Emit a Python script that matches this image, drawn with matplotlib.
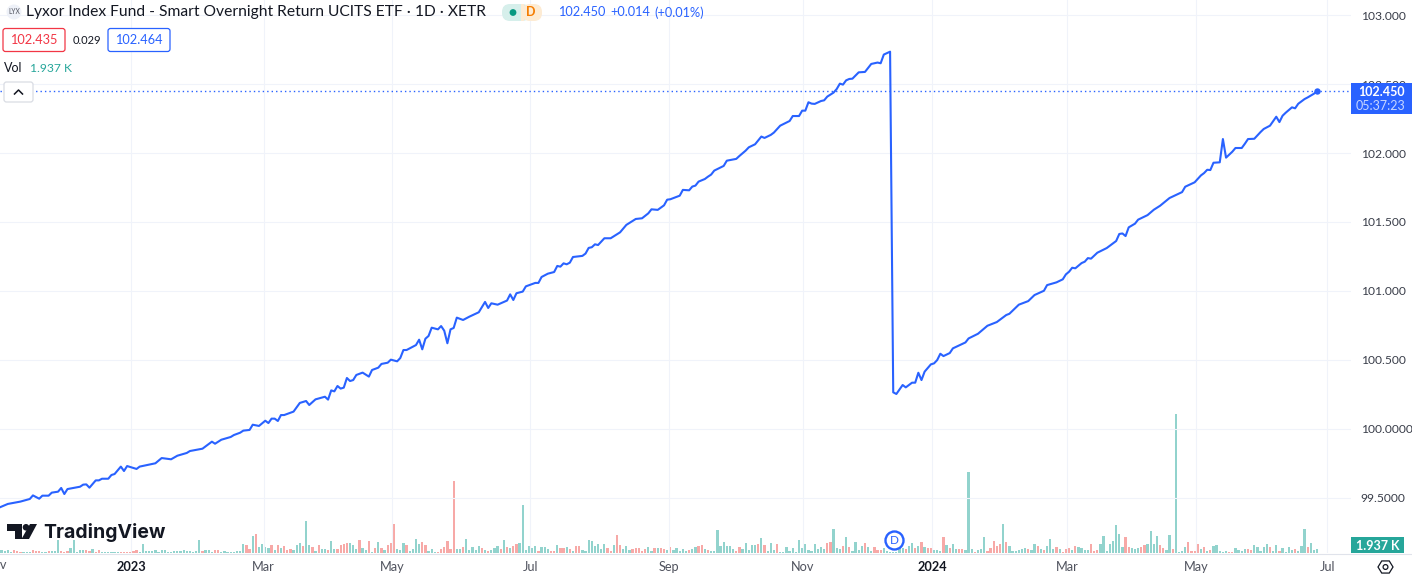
#coding:utf-8
import numpy as np
import matplotlib
matplotlib.use('Agg')
import matplotlib.pyplot as plt
from matplotlib.patches import Rectangle, FancyBboxPatch, Circle, Polygon

# daily closes (bar number, price)
close_idx = [0, 3, 7, 10, 11, 13, 14, 16, 17, 19, 20, 21, 22, 26, 27, 28, 29, 31, 32, 33, 35, 36, 37, 39, 40, 41,
             44, 45, 50, 52, 55, 57, 60, 61, 65, 68, 69, 71, 74, 75, 77, 78, 80, 81, 83, 85, 86, 87, 88, 89, 90, 91,
             94, 96, 98, 99, 101, 104, 105, 106, 107, 108, 109, 110, 111, 112, 113, 114, 116, 118, 119, 121, 122,
             124, 125, 127, 128, 129, 130, 133, 134, 135, 136, 137, 138, 140, 141, 142, 143, 144, 145, 146, 148,
             149, 150, 153, 155, 156, 157, 159, 162, 163, 164, 165, 167, 168, 171, 172, 173, 175, 177, 178, 179,
             180, 181, 182, 183, 186, 187, 188, 189, 190, 191, 193, 195, 198, 200, 203, 205, 207, 208, 210, 212,
             213, 214, 217, 218, 220, 221, 222, 223, 225, 226, 227, 228, 231, 232, 235, 236, 238, 239, 241, 243,
             244, 246, 247, 249, 252, 253, 255, 256, 257, 258, 259, 260, 262, 263, 264, 266, 267, 268, 269, 270,
             271, 272, 274, 276, 278, 280, 281, 282, 284, 285, 286, 288, 289, 291, 292, 293, 294, 295, 297, 298,
             299, 300, 301, 303, 304, 308, 309, 312, 315, 318, 321, 322, 325, 328, 330, 333, 334, 336, 337, 339,
             340, 341, 342, 343, 345, 346, 347, 348, 350, 353, 355, 356, 357, 358, 359, 360, 362, 363, 366, 368,
             370, 373, 377, 378, 381, 383, 384, 385, 386, 387, 389, 390, 391, 393, 394, 396, 397, 398, 400, 402,
             403, 405, 407, 408, 409, 410, 412, 413, 414, 416, 417, 419, 420]
close_val = [99.425, 99.454, 99.471, 99.490, 99.516, 99.492, 99.514, 99.514, 99.536, 99.543, 99.570, 99.526, 99.562,
             99.579, 99.594, 99.596, 99.572, 99.625, 99.625, 99.637, 99.637, 99.664, 99.671, 99.725, 99.693, 99.729,
             99.708, 99.725, 99.749, 99.787, 99.778, 99.804, 99.824, 99.838, 99.855, 99.906, 99.891, 99.920, 99.940,
             99.954, 99.971, 99.986, 99.991, 100.029, 100.020, 100.058, 100.041, 100.073, 100.073, 100.056, 100.099,
             100.099, 100.124, 100.187, 100.201, 100.172, 100.213, 100.232, 100.211, 100.278, 100.271, 100.310,
             100.291, 100.298, 100.368, 100.346, 100.353, 100.390, 100.407, 100.378, 100.426, 100.443, 100.470,
             100.479, 100.501, 100.489, 100.513, 100.571, 100.571, 100.607, 100.646, 100.576, 100.653, 100.673,
             100.733, 100.721, 100.745, 100.711, 100.620, 100.721, 100.731, 100.806, 100.789, 100.801, 100.813,
             100.845, 100.920, 100.876, 100.910, 100.900, 100.930, 100.975, 100.934, 100.983, 100.995, 101.033,
             101.058, 101.058, 101.101, 101.125, 101.137, 101.181, 101.176, 101.200, 101.193, 101.205, 101.246,
             101.254, 101.271, 101.312, 101.317, 101.338, 101.333, 101.382, 101.382, 101.425, 101.479, 101.522,
             101.527, 101.563, 101.592, 101.588, 101.621, 101.662, 101.665, 101.691, 101.733, 101.730, 101.757,
             101.764, 101.793, 101.812, 101.829, 101.844, 101.873, 101.907, 101.945, 101.958, 101.979, 102.018,
             102.042, 102.064, 102.120, 102.110, 102.132, 102.149, 102.199, 102.233, 102.269, 102.269, 102.308,
             102.308, 102.369, 102.359, 102.357, 102.378, 102.383, 102.410, 102.439, 102.465, 102.504, 102.497,
             102.528, 102.538, 102.540, 102.586, 102.589, 102.647, 102.657, 102.652, 102.715, 102.736, 100.264,
             100.252, 100.317, 100.300, 100.334, 100.334, 100.406, 100.353, 100.414, 100.467, 100.474, 100.498,
             100.544, 100.527, 100.549, 100.583, 100.626, 100.655, 100.689, 100.747, 100.774, 100.825, 100.834,
             100.900, 100.926, 100.970, 101.001, 101.042, 101.055, 101.062, 101.084, 101.120, 101.139, 101.168,
             101.164, 101.202, 101.212, 101.238, 101.234, 101.277, 101.311, 101.345, 101.362, 101.413, 101.417,
             101.398, 101.461, 101.488, 101.517, 101.550, 101.589, 101.618, 101.674, 101.717, 101.756, 101.788,
             101.838, 101.855, 101.879, 101.877, 101.930, 101.933, 102.102, 101.967, 102.010, 102.037, 102.037,
             102.068, 102.102, 102.104, 102.153, 102.175, 102.199, 102.264, 102.225, 102.271, 102.293, 102.332,
             102.325, 102.358, 102.392, 102.404, 102.431, 102.450]

# volume in K, one value per bar, negative = down day
vol_2022_23 = [0.7, 1.3, 1, 1.3, 0.5, -1.3, -0.8, -0.5, 0.7, 0.7,
               0.5, -1.3, -1, -0.8, 0.7, 0.5, -1, 0.8, 1, 6.7,
               -1, -0.7, -1, 2.3, 6.3, 0.7, 1.7, 1.5, -1.3, -1,
               1.8, -0.7, -1.3, 0.5, 0.7, 0.5, 0.5, 0.5, 0.4, -0.4,
               -0.4, -0.5, -0.5, -1, -1.7, 0.7, 4.5, 1, 1, 1,
               1.3, 0.5, 1.3, 1.3, 0.5, 0.7, 1, 1, 1, 1.3,
               1, 1, 0.7, 1, 6.3, -1, 1.3, 1.3, 0.5, -1.3,
               -1.3, 0.5, 0.8, 0.5, 0.7, 0.3, 1, 1, 4.3, -3.8,
               -2, 8.3, -9.5, 2.8, 4.3, 2.8, 2.3, -3.8, 1.5, -3.8,
               2.3, -3.3, -1.3, -2.2, 1.3, 3.8, 4.8, -3.3, 15.8, 3.8,
               -2.8, 0.8, -3.8, 1.8, 1.8, -1.3, 5.8, 1.8, -1.8, -3.8,
               -4.3, -4.8, 4.8, 3.8, 1.8, -6.7, 2.3, 1.3, -5.8, 0.5,
               -2.3, 5.3, -2.3, 1.3, -3.8, -4.8, -14.5, 1.8, 1.3, 4.8,
               -3.8, 0.8, 1.8, 6.8, 4.3, -5.3, -3.8, 0.8, 1.8, 0.7,
               -0.5, -1.8, -2.8, -5.8, -1.8, -35.8, 1.8, 1.8, -2.8, 6.8,
               1.3]
vol_2023 = [2.8, 1.5, 3.3, -2.3, 1.3, -0.8, 1.3, 2.3, 3.3, -1.8,
            6.3, -2.8, 2.3, -3.3, -4.3, 4.8, 23.8, 1.3, 3.3, 2.3,
            3.3, -0.8, 2.8, 2.8, 1.8, -0.8, -0.8, 3.8, -2.3, -2.3,
            2.8, -1.8, 0.8, -3.3, -3.3, 1.3, 0.8, 6.3, 5.8, 3.3,
            4.3, 1.8, 4.3, -2.3, -0.8, 3.8, -8.8, -3.8, 1.8, 3.3,
            1.3, -1.8, -2.3, -2.3, -0.8, -1.8, 2.8, 0.8, -2.3, 2.3,
            -2.3, -1.8, 1.3, -2.8, 1.3, 2.3, 0.8, 1.8, 0.8, -1.3,
            1.8, 2.8, -3.3, -3.8, 1.8, -1.3, 0.8, 0.8, 11.3, 3.3,
            5.3, 3.3, 3.3, 1.8, -0.8, -2.8, 1.8, 4.8, 1.3, 3.8,
            3.8, -4.3, 7.3, -3.8, 0.8, 4.8, 1.3, -4.3, 0.5, 0.5,
            2.8, 0.8, 2.3, 0.5, 6.3, 2.3, 4.3, 1.3, 0.8, 4.3,
            1.8, 2.8, 1.8, -4.8, -5.3, 11.8, 2.3, 1.8, -3.3, 7.8,
            -2.8, 0.8, 5.3, 1.3, 3.3, -4.8, 2.8, 0.8, -2.8, -1.3,
            -1.3, 2.3, 0.8, 0.5, 0.5, 0.5, 2.3, 2.3, -1.8, 3.3,
            4.8, -2.3, 3.3, -5.3, 2.8, -2.3, -2.3, 1.3, 1.3]
vol_2024 = [0.8, -7.8, 3.8, -2.5, 4.3, 2, -2, -2, 1.5, 40.5,
            2, -0.5, 1.5, 2, 7.8, -1, -2.5, -6, -3.3, -4.3,
            14.5, -5.3, 3.3, 1, 1, 1.5, 2, 2.5, -2, 1.5,
            4.3, -3.3, 2, -1.5, 3.3, 6.8, 2, -3, 2, -0.5,
            -2, -2.3, 1.5, -3.3, 2.8, 2.3, 1.5, 1.5, -4.3, -1,
            -1.5, 4.3, 8.3, 1, 4.3, 5.8, 14, 9.3, 2.8, -7.8,
            -2.8, 2.3, 1.8, 2.3, -2.8, -3.8, 4.3, 10.8, 4.3, 8.3,
            -3.8, -2.3, 1.5, 8.8, -1.8, 69.3, 0.5, 0.8, 2.8, -5.3,
            -0.8, -0.8, -4.3, 1.8, -2.8, 0.8, -1.5, 3.3, 3.8, 0.8,
            0.5, 0.8, -0.5, -0.5, 2.3, 1.5, 0.8, 1.8, -1.8, -1.5,
            3.8, 2.8, 0.8, 2.8, 4.3, -2.8, 0.8, 3.8, -0.8, 2.3,
            0.5, 2.8, 1.5, -1.8, 0.8, 3.3, 11.8, -2.8, 4.8, 1.5,
            1.937]

price_ticks = [103, 102.5, 102, 101.5, 101, 100.5, 100, 99.5]
price_labels = ['103.000', '102.500', '102.000', '101.500', '101.000', '100.500', '100.0000', '99.5000']
month_idx = [42.3, 84.5, 125.4, 169.4, 213.5, 256.3, 297.5, 340.4, 381.4, 423.2]
month_labels = ['2023', 'Mar', 'May', 'Jul', 'Sep', 'Nov', '2024', 'Mar', 'May', 'Jul']

BLUE = '#2962ff'
GRID = '#f0f3fa'
TEXT = '#131722'
TEAL = '#26a69a'
UP = '#92d3cd'
DOWN = '#f7a9a7'

plt.rcParams['font.family'] = ['Lato', 'DejaVu Sans']

W, H = 1412, 581
fig = plt.figure(figsize=(W / 100, H / 100), dpi=100)
rect = [0, 28 / H, 1351 / W, 553 / H]

ax = fig.add_axes(rect)
ax_vol = ax.twinx()
ax.set_zorder(ax_vol.get_zorder() + 1)
ax.patch.set_visible(False)

vol = np.array(vol_2022_23 + vol_2023 + vol_2024)
bar_x = np.arange(len(vol))
bar_col = np.where(vol < 0, DOWN, UP)
ax_vol.bar(bar_x, np.abs(vol), width=0.72, color=bar_col, linewidth=0)
ax_vol.set_ylim(0, 276.5)
ax_vol.set_yticks([])

ax.plot(close_idx, close_val, color=BLUE, lw=1.5, solid_joinstyle='round', zorder=3)
ax.plot(close_idx[-1], close_val[-1], 'o', color=BLUE, ms=4.6, mew=0, zorder=4)
ax.axhline(close_val[-1], color=BLUE, lw=1.0, ls=(0, (1, 2.2)), zorder=2)

ax.set_xlim(0.51, 430.8)
ax.set_ylim(99.098, 103.111)
ax.set_yticks(price_ticks)
ax.set_yticklabels(price_labels, fontsize=8.7, color='#3a3e4a')
ax.yaxis.tick_right()
ax_vol.yaxis.set_visible(False)
ax.set_xticks(month_idx)
ax.set_xticklabels(month_labels, fontsize=9.2, color='#50535e')
for t in ax.get_xticklabels():
    if t.get_text() in ('2023', '2024'):
        t.set_color(TEXT)
        t.set_fontweight('bold')
ax.tick_params(axis='both', length=0)
ax.tick_params(axis='x', pad=6)
ax.tick_params(axis='y', pad=7)
ax.grid(True, color=GRID, lw=0.8)
for a in (ax, ax_vol):
    for s in a.spines.values():
        s.set_visible(False)

# first month label is cut by the left edge
ax.text(-1, -12 / 553, 'Nov', transform=ax.get_xaxis_transform(), ha='center', va='center',
        fontsize=9.2, color='#50535e', clip_on=False)

# everything around the chart, in pixels
over = fig.add_axes([0, 0, 1, 1], zorder=10)
over.set_xlim(0, W)
over.set_ylim(H, 0)
over.axis('off')

over.plot([0, W], [553.5, 553.5], color='#e0e3eb', lw=0.8)


def box(x0, y0, x1, y1, fc='white', ec='none', lw=0.9, r=2.5):
    over.add_patch(FancyBboxPatch((x0, y0), x1 - x0, y1 - y0, boxstyle='round,pad=0,rounding_size=%s' % r,
                                  fc=fc, ec=ec, lw=lw))


def label(x, y, s, size=9.2, color=TEXT, ha='left', **kw):
    over.text(x, y, s, fontsize=size, color=color, ha=ha, va='center', **kw)


# header
over.add_patch(Circle((14, 12), 7.5, fc='#eef1f8', ec='none'))
label(14, 12, 'LYX', size=4.8, color='#50535e', ha='center')
label(26, 12, 'Lyxor Index Fund - Smart Overnight Return UCITS ETF · 1D · XETR', size=11.25)
box(502, 4, 530, 21, fc='#d6efeb', r=8)
box(522, 4, 542, 21, fc='#fdebd3', r=8)
over.add_patch(Rectangle((521, 4), 3, 17, fc='#fdebd3', ec='none'))
over.add_patch(Circle((513, 12.5), 3.4, fc='#089981', ec='none'))
label(531, 12.5, 'D', size=9, color='#f57c00', ha='center', fontweight='bold')
label(558, 12.5, '102.450', size=9.2, color=BLUE)
label(610, 12.5, '+0.014', size=9.2, color=BLUE)
label(654, 12.5, '(+0.01%)', size=9.2, color=BLUE)

box(3, 28.5, 65, 51.5, ec='#f23645')
label(34, 40, '102.435', color='#f23645', ha='center')
label(73, 40, '0.029', size=8, color=TEXT)
box(108, 28.5, 170, 51.5, ec=BLUE)
label(139, 40, '102.464', color=BLUE, ha='center')
label(4, 68, 'Vol', size=9)
label(30, 68, '1.937 K', color=TEAL, size=8.7)

box(4, 82, 33, 102, ec='#d9dce3')
over.plot([14.5, 18.5, 22.5], [94, 90, 94], color=TEXT, lw=1.1)

# last price tags
over.add_patch(Rectangle((1351, 83), 61, 31, fc=BLUE, ec='none'))
label(1381, 91.5, '102.450', size=9, color='white', ha='center', fontweight='bold')
label(1381, 105.5, '05:37:23', size=9, color='#c6d6ff', ha='center')
over.add_patch(Rectangle((1351, 537), 53, 16, fc=TEAL, ec='none'))
label(1378, 545.5, '1.937 K', size=9, color='white', ha='center', fontweight='bold')

# logo
over.add_patch(Polygon([(7, 524), (22, 524), (22, 539), (15, 539), (15, 530.5), (7, 530.5)], fc=TEXT, ec='none'))
over.add_patch(Circle((26, 527.3), 3.3, fc=TEXT, ec='none'))
over.add_patch(Polygon([(30, 524), (37, 524), (29, 539), (21.5, 539)], fc=TEXT, ec='none'))
label(43, 532.5, 'TradingView', size=14, color=TEXT, fontweight='bold', family='Inter')

# dividend marker
over.add_patch(Circle((894.5, 540.5), 9, fc='white', ec=BLUE, lw=1.7))
label(894.5, 540.5, 'D', size=8.5, color=BLUE, ha='center')

# settings icon
ang = np.radians([0, 60, 120, 180, 240, 300])
over.add_patch(Polygon(np.c_[1385.5 + 7.5 * np.cos(ang), 567 + 7 * np.sin(ang)], fc='none', ec=TEXT, lw=0.9))
over.add_patch(Circle((1385.5, 567), 2.4, fc='none', ec=TEXT, lw=0.9))

fig.savefig('out.png', dpi=100, facecolor='white')
